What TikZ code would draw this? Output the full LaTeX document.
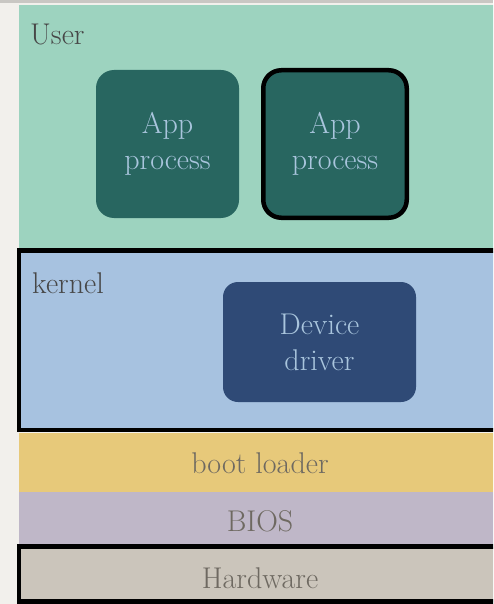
\documentclass[tikz,border=0pt]{standalone}

\definecolor{paper}{HTML}{F2F0EC}
\definecolor{edgegray}{HTML}{C9C7C3}
\definecolor{usergreen}{HTML}{9DD3BF}
\definecolor{appgreen}{HTML}{286660}
\definecolor{kernelblue}{HTML}{A7C2E0}
\definecolor{driverblue}{HTML}{2F4A76}
\definecolor{bootyellow}{HTML}{E7C97A}
\definecolor{biosmauve}{HTML}{BFB7C8}
\definecolor{hwgray}{HTML}{CBC5BB}
\definecolor{boxtext}{HTML}{A9C5DD}
\definecolor{labeltext}{HTML}{474747}
\definecolor{layertext}{HTML}{6E6961}

\tikzset{
  bigfont/.style={font=\fontsize{30}{36}\selectfont},
  corner label/.style={bigfont, text=labeltext, anchor=base west, inner sep=0pt},
  layer label/.style={bigfont, text=layertext, anchor=base, inner sep=0pt},
  procbox/.style={bigfont, fill=appgreen, text=boxtext, align=center,
    rounded corners=18pt, inner sep=0pt, minimum width=143pt, minimum height=148pt},
  drvbox/.style={bigfont, fill=driverblue, text=boxtext, align=center,
    rounded corners=15pt, inner sep=0pt, minimum width=193pt, minimum height=120pt},
  heavy/.style={draw=black, line width=4.5pt}
}

\begin{document}
\begin{tikzpicture}[x=1pt,y=-1pt]

    \clip (0,0) rectangle (493,604);

    % Paper
    \fill[paper] (0,0) rectangle (493,604);
    \fill[edgegray] (0,0) rectangle (493,3);

    % User space
    \fill[usergreen] (19,5) rectangle (510,250);
    \node[corner label] (user) at (30,45) {User};
    \node[procbox] (app1) at (167.5,144) {App\\process};
    \node[procbox, heavy, minimum width=143.5pt, minimum height=147.5pt] (app2) at (335,144) {App\\process};

    % Kernel
    \draw[heavy, fill=kernelblue] (19,250.5) rectangle (510,430);
    \node[corner label] (kernel) at (32,293) {kernel};
    \node[drvbox] (driver) at (319.5,342) {Device\\driver};

    % Lower layers
    \fill[bootyellow] (19,432.5) rectangle (510,492);
    \node[layer label] (boot) at (260,473) {boot loader};
    \fill[biosmauve] (19,492) rectangle (510,544);
    \node[layer label] (bios) at (260,531) {BIOS};
    \draw[heavy, fill=hwgray] (19,546.5) rectangle (510,601.5);
    \node[layer label] (hw) at (260,588) {Hardware};

\end{tikzpicture}
\end{document}
